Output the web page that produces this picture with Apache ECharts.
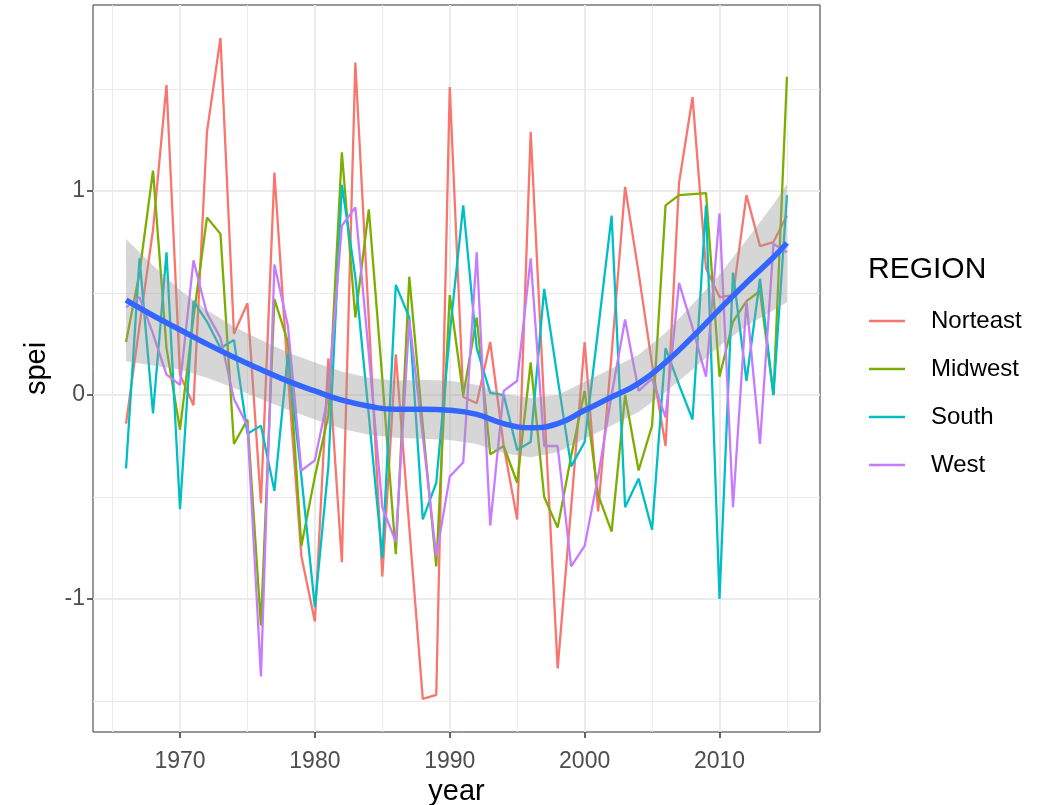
<!DOCTYPE html>
<html>
<head>
<meta charset="utf-8">
<script src="https://cdn.jsdelivr.net/npm/echarts@6/dist/echarts.min.js"></script>
<style>
  html, body { margin: 0; padding: 0; background: #fff; }
  #chart { width: 1045px; height: 805px; }
</style>
</head>
<body>
<div id="chart"></div>
<script>
var years = [1966, 1967, 1968, 1969, 1970, 1971, 1972, 1973, 1974, 1975,
             1976, 1977, 1978, 1979, 1980, 1981, 1982, 1983, 1984, 1985,
             1986, 1987, 1988, 1989, 1990, 1991, 1992, 1993, 1994, 1995,
             1996, 1997, 1998, 1999, 2000, 2001, 2002, 2003, 2004, 2005,
             2006, 2007, 2008, 2009, 2010, 2011, 2012, 2013, 2014, 2015];

var northeast = [-0.14, 0.34, 0.81, 1.52, 0.10, -0.05, 1.29, 1.75, 0.30, 0.45,
                 -0.53, 1.09, 0.10, -0.79, -1.11, 0.18, -0.82, 1.63, 0.37, -0.89,
                 0.20, -0.65, -1.49, -1.47, 1.51, -0.01, -0.04, 0.26, -0.25, -0.61,
                 1.29, -0.05, -1.34, -0.55, 0.26, -0.57, 0.20, 1.02, 0.60, 0.15,
                 -0.25, 1.04, 1.46, 0.62, 0.48, 0.49, 0.98, 0.73, 0.75, 0.88];

var midwest = [0.26, 0.60, 1.10, 0.23, -0.17, 0.38, 0.87, 0.79, -0.24, -0.12,
               -1.13, 0.47, 0.26, -0.74, -0.40, -0.10, 1.19, 0.38, 0.91, 0.08,
               -0.78, 0.58, -0.15, -0.84, 0.49, 0.00, 0.38, -0.29, -0.25, -0.43,
               0.16, -0.50, -0.65, -0.30, 0.02, -0.49, -0.67, 0.00, -0.37, -0.15,
               0.93, 0.98, 0.985, 0.99, 0.09, 0.36, 0.46, 0.51, 0.00, 1.56];

var south = [-0.36, 0.67, -0.09, 0.70, -0.56, 0.46, 0.36, 0.23, 0.27, -0.19,
             -0.15, -0.47, 0.20, -0.40, -1.04, -0.35, 1.03, 0.58, -0.10, -0.80,
             0.54, 0.38, -0.61, -0.43, 0.30, 0.93, 0.23, 0.01, 0.00, -0.27,
             -0.23, 0.52, 0.08, -0.35, -0.23, 0.32, 0.88, -0.55, -0.41, -0.66,
             0.23, 0.05, -0.12, 0.93, -1.00, 0.60, 0.07, 0.57, 0.00, 0.98];

var west = [0.43, 0.48, 0.30, 0.10, 0.05, 0.66, 0.40, 0.28, -0.02, -0.15,
            -1.38, 0.64, 0.34, -0.37, -0.32, 0.00, 0.83, 0.92, 0.20, -0.55,
            -0.72, 0.37, -0.20, -0.79, -0.40, -0.33, 0.70, -0.64, 0.02, 0.07,
            0.67, -0.25, -0.25, -0.84, -0.74, -0.40, 0.00, 0.37, 0.02, 0.08,
            -0.11, 0.55, 0.33, 0.09, 0.89, -0.55, 0.46, -0.24, 0.74, 0.70];

// loess fit and its confidence band
var smoothYears = [1966, 1968, 1970, 1972, 1974, 1976, 1978, 1980, 1982, 1984, 1986, 1988, 1990,
                   1992, 1994, 1996, 1998, 2000, 2002, 2004, 2006, 2008, 2010, 2012, 2014, 2015];
var smoothFit = [0.465, 0.39, 0.32, 0.25, 0.185, 0.125, 0.068, 0.02, -0.025, -0.055, -0.07, -0.07, -0.075,
                 -0.095, -0.14, -0.16, -0.14, -0.075, -0.01, 0.057, 0.16, 0.285, 0.42, 0.55, 0.675, 0.745];
var bandLow = [0.165, 0.145, 0.125, 0.085, 0.035, -0.02, -0.072, -0.12, -0.165, -0.195, -0.21, -0.215, -0.22,
               -0.24, -0.285, -0.305, -0.28, -0.215, -0.15, -0.083, 0.015, 0.125, 0.24, 0.34, 0.415, 0.455];
var bandHigh = [0.765, 0.635, 0.515, 0.415, 0.335, 0.27, 0.208, 0.16, 0.115, 0.085, 0.07, 0.075, 0.07,
                0.05, 0.005, -0.015, 0.0, 0.065, 0.13, 0.197, 0.305, 0.445, 0.59, 0.76, 0.935, 1.035];

var regions = ['Norteast', 'Midwest', 'South', 'West'];
var regionColors = ['#F8766D', '#7CAE00', '#00BFC4', '#C77CFF'];

var xMajor = [1970, 1980, 1990, 2000, 2010];
var xMinor = [1965, 1975, 1985, 1995, 2005, 2015];
var yMajor = [-1, 0, 1];
var yMinor = [-1.5, -0.5, 0.5, 1.5];

var fontFamily = '"Liberation Sans", Arial, Helvetica, sans-serif';

function pairs(xs, ys) {
    return xs.map(function (x, i) { return [x, ys[i]]; });
}

var gridLines = [];
xMinor.forEach(function (v) { gridLines.push({ xAxis: v, lineStyle: { width: 1 } }); });
yMinor.forEach(function (v) { gridLines.push({ yAxis: v, lineStyle: { width: 1 } }); });
xMajor.forEach(function (v) { gridLines.push({ xAxis: v, lineStyle: { width: 2 } }); });
yMajor.forEach(function (v) { gridLines.push({ yAxis: v, lineStyle: { width: 2 } }); });

var series = [{
    name: 'grid',
    type: 'line',
    data: [],
    silent: true,
    z: 0,
    markLine: {
        silent: true,
        symbol: 'none',
        z: 0,
        label: { show: false },
        emphasis: { disabled: true },
        lineStyle: { color: '#EBEBEB', type: 'solid' },
        data: gridLines
    }
}];

var regionData = [northeast, midwest, south, west];
regions.forEach(function (name, i) {
    series.push({
        name: name,
        type: 'line',
        data: pairs(years, regionData[i]),
        showSymbol: false,
        symbol: 'none',
        z: 2,
        lineStyle: { color: regionColors[i], width: 2.3 },
        itemStyle: { color: regionColors[i] },
        emphasis: { disabled: true }
    });
});

// confidence ribbon as one polygon: upper edge forward, lower edge back
series.push({
    name: 'band',
    type: 'custom',
    z: 3,
    silent: true,
    data: [[smoothYears[0], bandLow[0]]],
    renderItem: function (params, api) {
        var pts = [];
        for (var i = 0; i < smoothYears.length; i++) {
            pts.push(api.coord([smoothYears[i], bandHigh[i]]));
        }
        for (var j = smoothYears.length - 1; j >= 0; j--) {
            pts.push(api.coord([smoothYears[j], bandLow[j]]));
        }
        return {
            type: 'polygon',
            shape: { points: pts },
            style: { fill: 'rgba(153,153,153,0.4)' }
        };
    }
});
series.push({
    name: 'fit',
    type: 'line',
    data: pairs(smoothYears, smoothFit),
    smooth: true,
    symbol: 'none',
    z: 4,
    lineStyle: { color: '#3366FF', width: 5.5 },
    emphasis: { disabled: true }
});

var chart = echarts.init(document.getElementById('chart'), null, { renderer: 'canvas' });
chart.setOption({
    animation: false,
    backgroundColor: '#ffffff',
    textStyle: { fontFamily: fontFamily },
    grid: {
        left: 93, right: 225, top: 5, bottom: 73,
        outerBoundsMode: 'none',
        show: true, borderColor: '#333333', borderWidth: 1, backgroundColor: 'transparent'
    },
    title: {
        text: 'REGION',
        left: 863, top: 250,
        textStyle: { fontFamily: fontFamily, fontSize: 30, fontWeight: 'normal', color: '#000' }
    },
    legend: {
        data: regions,
        orient: 'vertical',
        left: 869, top: 309,
        padding: 0,
        icon: 'rect',
        itemWidth: 36, itemHeight: 2.5,
        itemGap: 24,
        textStyle: { fontFamily: fontFamily, fontSize: 24, color: '#000', lineHeight: 24, padding: [0, 0, 0, 21] },
        selectedMode: false
    },
    xAxis: {
        type: 'value',
        min: 1963.55, max: 2017.45,
        name: 'year',
        nameLocation: 'middle',
        nameGap: 45,
        nameTextStyle: { fontFamily: fontFamily, fontSize: 29, color: '#000' },
        axisLine: { show: false, onZero: false },
        axisTick: { show: true, customValues: xMajor, length: 6, lineStyle: { color: '#333333', width: 1.5 } },
        axisLabel: {
            customValues: xMajor, color: '#4D4D4D', fontSize: 23, margin: 18, fontFamily: fontFamily,
            formatter: function (v) { return String(v); }
        },
        splitLine: { show: false }
    },
    yAxis: {
        type: 'value',
        min: -1.652, max: 1.912,
        name: 'spei',
        nameLocation: 'middle',
        nameGap: 42,
        nameRotate: 90,
        nameTextStyle: { fontFamily: fontFamily, fontSize: 29, color: '#000' },
        axisLine: { show: false, onZero: false },
        axisTick: { show: true, customValues: yMajor, length: 6, lineStyle: { color: '#333333', width: 1.5 } },
        axisLabel: { customValues: yMajor, color: '#4D4D4D', fontSize: 23, margin: 8, fontFamily: fontFamily },
        splitLine: { show: false }
    },
    series: series
});
</script>
</body>
</html>
